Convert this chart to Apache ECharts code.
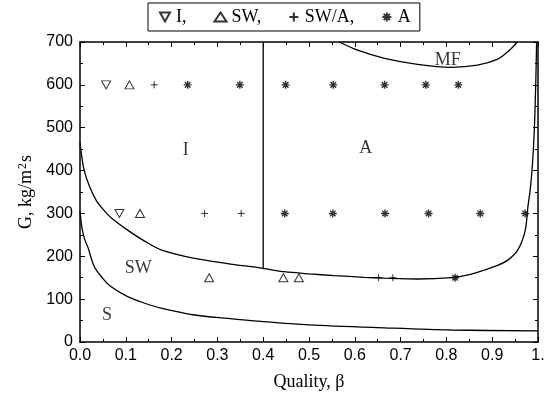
<!DOCTYPE html>
<html>
<head>
<meta charset="utf-8">
<script src="https://cdn.jsdelivr.net/npm/echarts@6/dist/echarts.min.js"></script>
<style>
html,body{margin:0;padding:0;background:#fff;}
#chart{width:547px;height:405px;}
</style>
</head>
<body>
<div id="chart"></div>
<script>
// ---- data ----
const legendNames = ['I,', 'SW,', 'SW/A,', 'A'];
const ptsI = [[0.057,600],[0.086,300]];
const ptsSW = [[0.108,600],[0.131,300],[0.282,150],[0.444,150],[0.478,150]];
const ptsSWA = [[0.162,600],[0.272,300],[0.352,300],[0.652,150],[0.683,150]];
const ptsA = [[0.235,600],[0.349,600],[0.449,600],[0.553,600],[0.665,600],[0.755,600],[0.826,600],
              [0.447,300],[0.552,300],[0.666,300],[0.761,300],[0.874,300],[0.972,300],[0.819,150]];
const curveUpper = [[0,465],[0.004,432],[0.009,401],[0.02,365],[0.035,331],[0.05,310],[0.068,290],
  [0.104,261],[0.14,236],[0.177,215],[0.25,195],[0.322,183],[0.399,172],[0.446,164],[0.5,159],
  [0.555,155],[0.62,151],[0.665,149],[0.737,147],[0.81,150],[0.85,157],[0.883,168],[0.91,178],
  [0.934,191],[0.956,215],[0.972,260],[0.978,316],[0.983,355],[0.988,417],[0.992,495],[0.995,600],[0.997,700]];
const curveLower = [[0,305],[0.004,268],[0.01,240],[0.017,222],[0.031,176],[0.05,148],[0.068,129],
  [0.104,106],[0.14,91],[0.177,79],[0.25,63],[0.322,55],[0.395,48],[0.5,40],[0.665,33],[0.81,28],[1.0,26]];
const curveMF = [[0.566,700],[0.606,681],[0.665,662],[0.737,648],[0.81,641],[0.868,646],[0.912,660],[0.934,677],[0.955,700]];
const lineVertical = [[0.4,172],[0.4,700]];
const regionText = ['I','A','MF','SW','S'];
const regionX = [0.231,0.624,0.803,0.127,0.059];
const regionY = [448,453,658,173,63];
const xTickFmt = v => (v === 1 ? '1.' : v.toFixed(1));

// ---- chart ----
const serif = 'Liberation Serif';
const sans = 'Liberation Sans';
const black = '#000';
const symDown = 'path://M0,0L10,0L5,9Z';
const symPlus = 'path://M0,5L10,5M5,0L5,10';
const symStar = 'path://M0,5L10,5M5,0L5,10M1.5,1.5L8.5,8.5M8.5,1.5L1.5,8.5';
const openStyle = {color:'transparent', borderColor:black, borderWidth:1};

function axisCommon(extra){
  return Object.assign({
    type:'value',
    axisLine:{show:true, onZero:false, lineStyle:{color:black, width:1.5}},
    axisTick:{show:true, inside:true, length:5, lineStyle:{color:black, width:1}},
    minorTick:{show:true, splitNumber:2, length:3, lineStyle:{color:black, width:1}},
    splitLine:{show:false},
    minorSplitLine:{show:false}
  }, extra);
}

const regionData = regionText.map((t,i)=>({value:[regionX[i], regionY[i]], name:t}));
const lineStyle = {color:black, width:1.3};

// trailing non-breaking spaces after each legend entry (spacing only)
const legendTrail = [6, 6, 6, 0];

const option = {
  animation:false,
  backgroundColor:'#fff',
  grid:{left:80, right:9, top:42, bottom:63, outerBoundsMode:'none'},
  legend:{
    data:legendNames,
    left:148, top:3,
    padding:[5,9,5,11],
    borderColor:black, borderWidth:1,
    itemGap:0, itemWidth:12, itemHeight:9,
    formatter: name => name + '\u00a0'.repeat(legendTrail[legendNames.indexOf(name)]),
    textStyle:{fontFamily:serif, fontSize:18, color:black},
    selectedMode:false
  },
  xAxis:[
    axisCommon({min:0, max:1, interval:0.1, position:'bottom',
      axisLabel:{color:black, fontSize:16, fontFamily:sans, margin:6, formatter:xTickFmt, showMaxLabel:true, hideOverlap:false},
      name:'Quality, β', nameLocation:'middle', nameGap:31,
      nameTextStyle:{fontFamily:serif, fontSize:18, color:black}}),
    axisCommon({min:0, max:1, interval:0.1, position:'top', axisLabel:{show:false}})
  ],
  yAxis:[
    axisCommon({min:0, max:700, interval:100, position:'left',
      axisLabel:{color:black, fontSize:16, fontFamily:sans, margin:7},
      name:'G, kg/m{sup|2}s', nameLocation:'middle', nameGap:41,
      nameTextStyle:{fontFamily:serif, fontSize:18, color:black,
        rich:{sup:{fontFamily:serif, fontSize:12, color:black, verticalAlign:'top', padding:[0,1,8,1]}}}}),
    axisCommon({min:0, max:700, interval:100, position:'right', axisLabel:{show:false}})
  ],
  series:[
    {type:'line', data:curveUpper, smooth:0.3, showSymbol:false, lineStyle, silent:true},
    {type:'line', data:curveLower, smooth:0.3, showSymbol:false, lineStyle, silent:true},
    {type:'line', data:curveMF, smooth:0.3, showSymbol:false, lineStyle, silent:true},
    {type:'line', data:lineVertical, showSymbol:false, lineStyle, silent:true},
    {name:'I,', type:'scatter', data:ptsI, symbol:symDown, symbolSize:[9,8], itemStyle:openStyle},
    {name:'SW,', type:'scatter', data:ptsSW, symbol:'triangle', symbolSize:[9,8], itemStyle:openStyle},
    {name:'SW/A,', type:'scatter', data:ptsSWA, symbol:symPlus, symbolSize:7, itemStyle:openStyle},
    {name:'A', type:'scatter', data:ptsA, symbol:symStar, symbolSize:8, itemStyle:{color:'transparent', borderColor:black, borderWidth:1.4}},
    {type:'scatter', data:regionData, symbolSize:0, silent:true,
      label:{show:true, position:'inside', formatter:p=>p.name, fontFamily:serif, fontSize:18, color:black}}
  ]
};

const chart = echarts.init(document.getElementById('chart'), null, {renderer:'canvas'});
chart.setOption(option);
</script>
</body>
</html>
